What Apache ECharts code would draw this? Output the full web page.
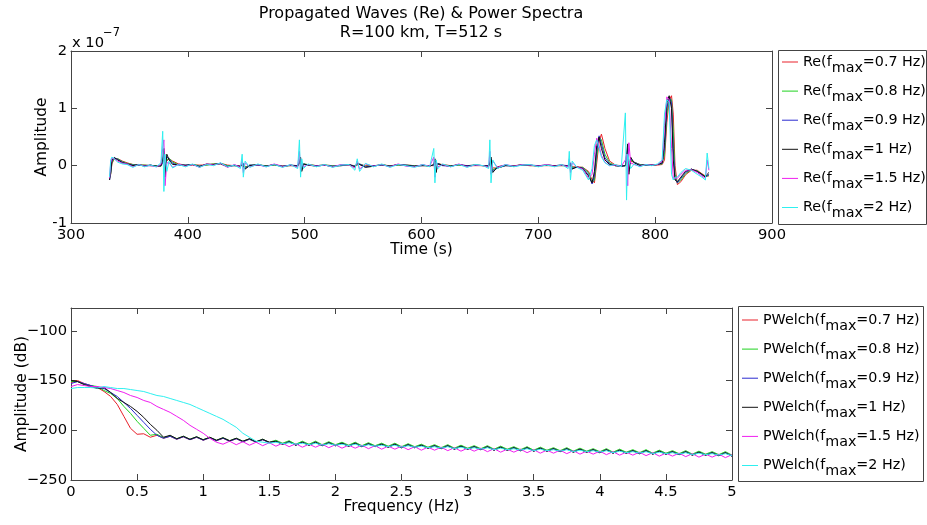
<!DOCTYPE html>
<html>
<head>
<meta charset="utf-8">
<title>Propagated Waves (Re) &amp; Power Spectra</title>
<script src="https://cdn.jsdelivr.net/npm/echarts@6/dist/echarts.min.js"></script>
<style>
  html, body { margin: 0; padding: 0; background: #fff; }
  #chart { width: 927px; height: 525px; }
</style>
</head>
<body>
<div id="chart"></div>
<script>
// ---------------- data ----------------
var fmaxLabels = ['0.7 Hz', '0.8 Hz', '0.9 Hz', '1 Hz', '1.5 Hz', '2 Hz'];

// propagated waves: time (s) and real part, in units of 1e-7
var timeS = [333,334,335,337,340,344,348,353,358,363,
  368,373,377,378.5,379.5,380.5,382,384,387,392,
  398,404,410,416,422,428,434,440,445,446.5,
  447.5,449,453,460,467,474,481,488,494,495.5,
  496.5,497.5,499,503,510,517,524,531,538,543,
  545,547,552,559,566,573,580,587,594,601,
  607,610.5,611.5,612.5,614,618,625,632,639,646,
  653,657.5,658.5,659.5,661,665,672,679,686,693,
  700,707,714,720,725.5,726.5,727.5,729,733,738,
  743,746,748,750,752,754,757,761,766,771,
  774.5,775.5,776.5,777.5,779,782,787,792,797,802,
  806,808,810,812,814,815.5,817,819,822,826,
  831,836,840,843,844.5,846];

var re07 = [-0.2,-0.15,0.03,0.12,0.12,0.08,0.05,0.02,0.01,0.01,
  0,0,-0.01,0,0.1,0.05,0.06,0.12,0.08,0.03,
  0.01,0.01,0.01,0.01,0.03,0.04,0.01,0,0,0,
  0.02,-0.02,0,0.01,0,0.01,0,0,0,0.01,
  0.05,-0.02,0.02,0.02,0,0.01,0,0,0.01,0,
  0.01,0.02,0,0,0.01,0,0.01,0.01,0,0,
  0,0,0.04,-0.04,0.03,0.02,0,0.01,0,0,
  0,0,0.01,0.05,-0.04,-0.04,0,0,0.01,0,
  0,0,0,0,0,0.01,0.02,-0.02,-0.02,-0.03,
  -0.1,-0.25,-0.3,0.05,0.42,0.55,0.3,0.08,0.01,0,
  0,0,0.12,0,0.08,0.06,0.02,0.01,0.01,0.01,
  0.02,0.1,0.75,1.15,1.22,0.9,0,-0.33,-0.28,-0.16,
  -0.08,-0.08,-0.14,-0.18,-0.2,-0.18];

var re08 = [-0.22,-0.14,0.05,0.13,0.12,0.07,0.04,0.02,0.01,0.01,
  0,0,-0.01,0.02,0.18,0,0.1,0.13,0.06,0.02,
  0.01,0.02,0,0.01,0.03,0.04,0,0,-0.01,0,
  0.03,-0.03,0.01,0.01,0,0.01,-0.01,0,0,0.02,
  0.08,-0.05,0.03,0.02,0,0.01,0,0,0.01,0,
  0.02,0.03,-0.01,0,0.01,0,0.01,0.01,0,0,
  0,0.01,0.07,-0.07,0.04,0.01,0,0.01,0,0.01,
  0,0,0.02,0.08,-0.07,-0.04,0,0,0.01,0,
  0,0.01,0,0,0,0.02,0.04,-0.03,-0.03,-0.03,
  -0.12,-0.3,-0.25,0.15,0.5,0.45,0.2,0.05,0,0,
  0,0,0.2,-0.05,0.1,0.06,0.02,0.01,0.01,0.02,
  0.03,0.2,0.9,1.18,1.15,0.6,-0.15,-0.3,-0.25,-0.14,
  -0.07,-0.09,-0.15,-0.19,-0.19,-0.17];

var re09 = [-0.25,-0.12,0.08,0.14,0.11,0.06,0.03,0.01,0.01,0,
  0.01,-0.01,0,0.05,0.25,-0.1,0.15,0.12,0.04,0.01,
  0.01,0.02,-0.01,0.02,0.02,0.04,-0.01,0,-0.01,0.01,
  0.04,-0.05,0.01,0.01,-0.01,0.02,-0.01,0.01,0,0.03,
  0.12,-0.08,0.03,0.01,0,0.01,-0.01,0,0.02,-0.01,
  0.03,0.03,-0.02,0,0.01,-0.01,0.02,0.01,-0.01,0,
  0,0.01,0.1,-0.1,0.04,0,-0.01,0.02,0,0.01,
  0,0,0.03,0.12,-0.1,-0.04,0,-0.01,0.01,0.01,
  0,0.01,0,0.01,0,0.03,0.05,-0.05,-0.03,-0.04,
  -0.15,-0.32,-0.18,0.25,0.52,0.38,0.14,0.03,0,-0.01,
  0,0.01,0.3,-0.1,0.12,0.06,0.01,0.01,0.01,0.02,
  0.04,0.3,1,1.2,1.1,0.3,-0.22,-0.3,-0.22,-0.12,
  -0.06,-0.1,-0.16,-0.2,-0.18,-0.15];

var re10 = [-0.25,-0.1,0.1,0.14,0.1,0.05,0.03,0,0.02,-0.01,
  0.01,-0.01,0,0.1,0.3,-0.2,0.2,0.1,0.02,0.02,
  0,0.02,-0.02,0.03,0.02,0.03,-0.02,0.01,-0.02,0.02,
  0.05,-0.06,0,0.02,-0.01,0.02,-0.02,0.01,-0.01,0.05,
  0.15,-0.1,0.03,0.01,-0.01,0.01,-0.02,0.01,0.02,-0.02,
  0.04,0.02,-0.03,-0.01,0.02,-0.01,0.02,0,-0.01,0.01,
  -0.01,0.02,0.12,-0.12,0.03,0.01,-0.01,0.02,-0.01,0.01,
  0,-0.01,0.05,0.15,-0.12,-0.02,0.01,-0.01,0.02,0.01,
  -0.01,0.01,0,0.01,-0.01,0.04,0.06,-0.06,-0.02,-0.05,
  -0.18,-0.3,-0.1,0.35,0.5,0.3,0.1,0.02,0,-0.01,
  0,0.02,0.38,-0.15,0.15,0.05,0,0.02,0.01,0.02,
  0.05,0.4,1.1,1.22,1,0.1,-0.25,-0.28,-0.2,-0.1,
  -0.06,-0.1,-0.15,-0.2,-0.15,-0.12];

var re15 = [-0.22,0.05,0.13,0.12,0.08,0.04,0.03,-0.02,0.02,-0.01,
  0,-0.02,0.02,0.3,0.45,-0.35,0.05,0.05,-0.03,0.03,
  -0.01,0.02,-0.03,0.03,0.01,0.04,-0.03,0.02,-0.03,0.1,
  -0.12,0.05,-0.02,0.02,-0.02,0.03,-0.02,0.01,-0.03,0.25,
  -0.1,0.05,-0.02,0.02,-0.01,0.01,-0.02,0.02,0.01,-0.04,
  0.08,-0.06,0.03,-0.01,0.02,-0.02,0.03,-0.01,-0.02,0.02,
  -0.01,0.15,-0.2,0.06,-0.02,0.02,-0.02,0.03,-0.02,0.01,
  0,-0.03,0.25,-0.15,0.08,-0.03,0.02,-0.01,0.02,0.01,
  -0.01,0.02,-0.01,0.01,-0.02,0.12,-0.12,0.05,-0.02,-0.06,
  -0.22,-0.15,0.2,0.48,0.35,0.18,0.06,0,0.01,-0.01,
  0.1,0.2,-0.35,0.4,0.05,0.02,-0.01,0.02,0.01,0.02,
  0.08,0.7,1.2,1.15,0.3,-0.22,-0.25,-0.22,-0.15,-0.08,
  -0.07,-0.12,-0.18,-0.22,0.1,-0.08];

var re20 = [-0.2,0.1,0.15,0.12,0.06,0.03,0.02,-0.03,0.02,-0.02,
  0.01,-0.02,0.05,0.6,-0.45,0.2,-0.1,0.08,-0.04,0.02,
  -0.02,0.03,-0.03,0.02,0,0.05,-0.02,0.01,-0.05,0.2,
  -0.2,0.08,-0.03,0.03,-0.02,0.02,-0.03,0.02,-0.05,0.45,
  -0.2,0.12,-0.05,0.03,-0.02,0.02,-0.03,0.01,0.02,-0.08,
  0.12,-0.1,0.04,-0.02,0.03,-0.03,0.02,0,-0.03,0.02,
  -0.02,0.3,-0.3,0.1,-0.05,0.03,-0.02,0.02,-0.03,0.02,
  0,-0.05,0.45,-0.3,0.1,-0.05,0.02,-0.02,0.01,0.02,
  -0.02,0.01,-0.02,0.02,-0.05,0.25,-0.25,0.08,-0.03,-0.08,
  -0.25,-0.05,0.35,0.45,0.3,0.15,0.05,0,0.02,-0.02,
  0.92,-0.6,0.2,0.1,-0.05,0.03,-0.02,0.02,0,0.03,
  0.1,0.9,1.15,1.1,-0.15,-0.25,-0.2,-0.2,-0.12,-0.05,
  -0.08,-0.15,-0.2,-0.25,0.22,-0.05];

// power spectra: frequency (Hz) and PWelch amplitude (dB)
var freqHz = [0,0.05,0.1,0.15,0.2,0.25,0.3,0.35,0.4,0.45,
  0.5,0.55,0.6,0.65,0.7,0.75,0.8,0.85,0.9,0.95,
  1,1.05,1.1,1.15,1.2,1.25,1.3,1.35,1.4,1.45,
  1.5,1.55,1.6,1.65,1.7,1.75,1.8,1.85,1.9,1.95,
  2,2.05,2.1,2.15,2.2,2.25,2.3,2.35,2.4,2.45,
  2.5,2.55,2.6,2.65,2.7,2.75,2.8,2.85,2.9,2.95,
  3,3.05,3.1,3.15,3.2,3.25,3.3,3.35,3.4,3.45,
  3.5,3.55,3.6,3.65,3.7,3.75,3.8,3.85,3.9,3.95,
  4,4.05,4.1,4.15,4.2,4.25,4.3,4.35,4.4,4.45,
  4.5,4.55,4.6,4.65,4.7,4.75,4.8,4.85,4.9,4.95,5];

// 0 .. 1.5 Hz
var pwHead07 = [-152,-150,-153,-155,-157,-161,-166,-174,-186,-198,-204,-203.5,-207,-205,-208,-206,-209,-206.5,-209.5,-207,-210,-207.5,-210.5,-208,-211,-208.5,-211.5,-209,-212,-209.5,-212.5];
var pwHead08 = [-151,-151,-154,-155,-156,-160,-163,-168,-176,-183,-191,-198,-205,-204,-207.5,-205.5,-208.5,-206,-209,-206.5,-209.5,-207,-210,-207.5,-210.5,-208,-211,-208.5,-211.5,-209,-212];
var pwHead09 = [-153,-151,-153,-155,-157,-158,-162,-166,-172,-178,-185,-192,-199,-205,-208,-206,-209,-206.5,-209.5,-207,-210,-207.5,-210.5,-208,-211,-208.5,-211.5,-209,-212,-209.5,-212.5];
var pwHead10 = [-150,-151,-154,-156,-158,-157,-162,-168,-172,-176,-181,-187,-194,-200,-207,-205,-208.5,-206,-209,-206.5,-209.5,-207,-210,-207.5,-210.5,-208,-211,-208.5,-211.5,-209,-212];
var pwHead15 = [-156,-154,-155,-156,-156,-157,-158,-160,-162,-165,-167,-170,-172,-176,-179,-182,-186,-190,-195,-199,-203,-208,-212,-214,-211,-214.5,-211.5,-215,-212,-215.5,-212.5];
var pwHead20 = [-158,-157,-157,-157,-157.5,-156,-157,-158,-158,-159,-160,-161,-163,-165,-166,-168,-170,-172,-174,-177,-180,-183,-186,-189,-193,-197,-203,-207,-211,-212,-213];

// 1.55 .. 5 Hz (rippled floor)
var pwTailK = [-211,-214,-211.5,-215,-212,-215,-212,-215.5,-212.5,-215.5,-213,-216,-213,-216.5,-213.5,-216.5,-214,-217,-214,-217.5,
  -214.5,-217.5,-215,-218,-215.5,-218.5,-215.5,-219,-216,-219,-216.5,-219.5,-216.5,-220,-217,-220,-217.5,-220.5,-217.5,-221,
  -218,-221,-218.5,-221.5,-218.5,-222,-219,-222,-219.5,-222.5,-219.5,-223,-220,-223,-220.5,-223.5,-220.5,-224,-221,-224,
  -221.5,-224.5,-221.5,-225,-222,-225,-222.5,-225.5,-222.5,-226];
var pwTailG = [-210,-213,-210.5,-214,-211,-214,-211,-214.5,-211.5,-214.5,-212,-215,-212,-215.5,-212.5,-215.5,-213,-216,-213,-216.5,
  -213.5,-216.5,-214,-217,-214.5,-217.5,-214.5,-218,-215,-218,-215.5,-218.5,-215.5,-219,-216,-219,-216.5,-219.5,-216.5,-220,
  -217,-220,-217.5,-220.5,-217.5,-221,-218,-221,-218.5,-221.5,-218.5,-222,-219,-222,-219.5,-222.5,-219.5,-223,-220,-223,
  -220.5,-223.5,-220.5,-224,-221,-224,-221.5,-224.5,-221.5,-225];
var pwTailC = [-212,-213.5,-212.5,-214,-213,-214.5,-213,-215,-213.5,-215,-214,-215.5,-214,-216,-214.5,-216,-215,-216.5,-215,-217,
  -215.5,-217,-216,-217.5,-216.5,-218,-216.5,-218.5,-217,-218.5,-217.5,-219,-217.5,-219.5,-218,-219.5,-218.5,-220,-218.5,-220.5,
  -219,-220.5,-219.5,-221,-219.5,-221.5,-220,-221.5,-220.5,-222,-220.5,-222.5,-221,-222.5,-221.5,-223,-221.5,-223.5,-222,-223.5,
  -222.5,-224,-222.5,-224.5,-223,-224.5,-223.5,-225,-223.5,-225.5];
var pwTailM = [-216,-213,-216.5,-213.5,-217,-214,-217,-214,-217.5,-214.5,-218,-215,-218,-215,-218.5,-215.5,-219,-216,-219,-216,
  -219.5,-216.5,-220,-217,-220,-217,-220.5,-217.5,-221,-218,-221,-218,-221.5,-218.5,-222,-219,-222,-219,-222.5,-219.5,
  -223,-220,-223,-220,-223.5,-220.5,-224,-221,-224,-221,-224.5,-221.5,-225,-222,-225,-222,-225.5,-222.5,-226,-223,
  -226,-223,-226.5,-223.5,-227,-224,-227,-224,-227.5,-224.5];

var reValues = [re07, re08, re09, re10, re15, re20];
var pwValues = [
  pwHead07.concat(pwTailK), pwHead08.concat(pwTailG), pwHead09.concat(pwTailK),
  pwHead10.concat(pwTailK), pwHead15.concat(pwTailM), pwHead20.concat(pwTailC)
];

// ---------------- style ----------------
var lineColors = ['#e8202a', '#1ed21e', '#2a2ad0', '#111111', '#f01ef0', '#2ef0f0'];
var FONT = 'DejaVu Sans';
var AXIS_COLOR = '#444';
var TEXT_COLOR = '#000';

var chart = echarts.init(document.getElementById('chart'), null, { renderer: 'canvas' });

function boxAxis(gridIndex, pos, min, max, interval, extra) {
  var ax = {
    gridIndex: gridIndex,
    type: 'value',
    position: pos,
    min: min,
    max: max,
    interval: interval,
    nameMoveOverlap: false,
    axisLine: { show: true, onZero: false, lineStyle: { color: AXIS_COLOR, width: 1 } },
    axisTick: { show: true, inside: true, length: 6, lineStyle: { color: AXIS_COLOR } },
    splitLine: { show: false },
    axisLabel: { show: false }
  };
  return Object.assign(ax, extra || {});
}

var labelStyle = { show: true, fontFamily: FONT, fontSize: 14.7, color: TEXT_COLOR };
var nameStyle = { fontFamily: FONT, fontSize: 15.4, color: TEXT_COLOR };

var reNames = fmaxLabels.map(function (l) { return 'Re(f_max=' + l + ')'; });
var pwNames = fmaxLabels.map(function (l) { return 'PWelch(f_max=' + l + ')'; });

var series = [];
reValues.forEach(function (vals, k) {
  series.push({
    name: reNames[k],
    type: 'line',
    xAxisIndex: 0,
    yAxisIndex: 0,
    showSymbol: false,
    symbol: 'none',
    silent: true,
    lineStyle: { width: 1, color: lineColors[k] },
    itemStyle: { color: lineColors[k] },
    data: timeS.map(function (t, i) { return [t, vals[i]]; })
  });
});
pwValues.forEach(function (vals, k) {
  series.push({
    name: pwNames[k],
    type: 'line',
    xAxisIndex: 2,
    yAxisIndex: 2,
    showSymbol: false,
    symbol: 'none',
    silent: true,
    lineStyle: { width: 1, color: lineColors[k] },
    itemStyle: { color: lineColors[k] },
    data: freqHz.map(function (f, i) { return [f, vals[i]]; })
  });
});

function legendFormatter(name) {
  var p = name.split('_max');
  return '{a|' + p[0] + '}{s|max}{a|' + p[1] + '}';
}
var legendRich = {
  a: { fontFamily: FONT, fontSize: 14.3, lineHeight: 20, color: TEXT_COLOR },
  s: { fontFamily: FONT, fontSize: 14.3, lineHeight: 20, color: TEXT_COLOR, padding: [12, 0, 0, 0] }
};
function makeLegend(names, left, top) {
  return {
    data: names,
    orient: 'vertical',
    left: left,
    top: top,
    padding: 0,
    itemGap: 3.1,
    itemWidth: 16,
    itemHeight: 1,
    icon: 'rect',
    selectedMode: false,
    formatter: legendFormatter,
    textStyle: { rich: legendRich }
  };
}

var option = {
  backgroundColor: '#fff',
  animation: false,
  grid: [
    { left: 71, top: 51, width: 701, height: 172, outerBoundsMode: 'none' },
    { left: 71, top: 308, width: 661, height: 172, outerBoundsMode: 'none' }
  ],
  xAxis: [
    boxAxis(0, 'bottom', 300, 900, 100, {
      axisLabel: Object.assign({ margin: 5 }, labelStyle),
      name: 'Time (s)', nameLocation: 'middle', nameGap: 19, nameTextStyle: nameStyle
    }),
    boxAxis(0, 'top', 300, 900, 100),
    boxAxis(1, 'bottom', 0, 5, 0.5, {
      axisLabel: Object.assign({ margin: 5 }, labelStyle),
      name: 'Frequency (Hz)', nameLocation: 'middle', nameGap: 19, nameTextStyle: nameStyle
    }),
    boxAxis(1, 'top', 0, 5, 0.5)
  ],
  yAxis: [
    boxAxis(0, 'left', -1, 2, 1, {
      axisLabel: Object.assign({ margin: 4 }, labelStyle),
      name: 'Amplitude', nameLocation: 'middle', nameGap: 22, nameRotate: 90, nameTextStyle: nameStyle
    }),
    boxAxis(0, 'right', -1, 2, 1),
    boxAxis(1, 'left', -250, -77, 50, {
      axisLabel: Object.assign({
        margin: 4,
        formatter: function (v) { return v % 50 === 0 ? String(v).replace('-', '\u2212') : ''; }
      }, labelStyle),
      name: 'Amplitude (dB)', nameLocation: 'middle', nameGap: 42, nameRotate: 90, nameTextStyle: nameStyle
    }),
    boxAxis(1, 'right', -250, -77, 50)
  ],
  legend: [
    makeLegend(reNames, 782, 49),
    makeLegend(pwNames, 742, 307)
  ],
  graphic: [
    {
      type: 'text', x: 421, y: 4, silent: true,
      style: {
        text: 'Propagated Waves (Re) & Power Spectra\nR=100 km, T=512 s',
        font: '16px "' + FONT + '"', fill: TEXT_COLOR,
        textAlign: 'center', textVerticalAlign: 'top', lineHeight: 19
      }
    },
    {
      type: 'text', x: 72, y: 43, silent: true,
      style: { text: 'x 10', font: '14.7px "' + FONT + '"', fill: TEXT_COLOR, textVerticalAlign: 'middle' }
    },
    {
      type: 'text', x: 103, y: 33, silent: true,
      style: { text: '\u22127', font: '11.5px "' + FONT + '"', fill: TEXT_COLOR, textVerticalAlign: 'middle' }
    },
    {
      type: 'rect', silent: true,
      shape: { x: 778.5, y: 50.5, width: 148, height: 174 },
      style: { fill: 'none', stroke: AXIS_COLOR, lineWidth: 1 }
    },
    {
      type: 'rect', silent: true,
      shape: { x: 738.5, y: 306.5, width: 185, height: 175 },
      style: { fill: 'none', stroke: AXIS_COLOR, lineWidth: 1 }
    }
  ],
  series: series
};

chart.setOption(option);
</script>
</body>
</html>
